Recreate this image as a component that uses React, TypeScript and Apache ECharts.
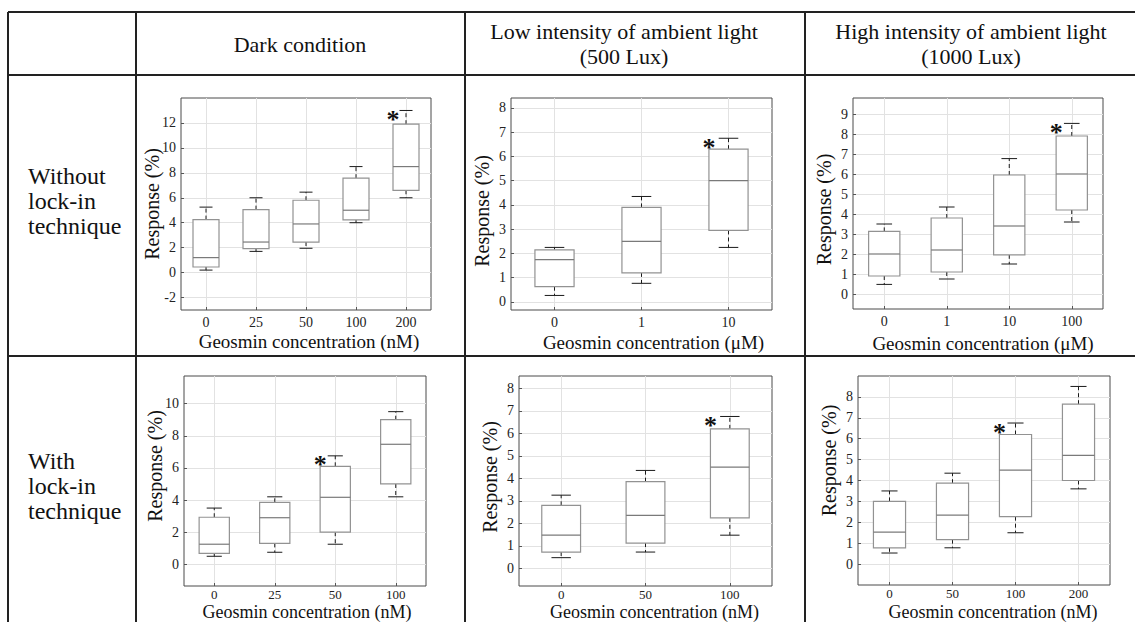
import React, { useEffect, useRef } from 'react';
import * as echarts from 'echarts';

// ---------- data ----------
const columnTitles = ['Dark condition', 'Low intensity of ambient light\n(500 Lux)', 'High intensity of ambient light\n(1000 Lux)'];
const rowTitles = ['Without\nlock-in\ntechnique', 'With\nlock-in\ntechnique'];
const yName = 'Response (%)';

// each box: [lower whisker, Q1, median, Q3, upper whisker]
const darkWithoutCats = ['0', '25', '50', '100', '200'];
const darkWithoutBoxes = [
  [0.2, 0.45, 1.2, 4.25, 5.25],
  [1.7, 1.92, 2.45, 5.05, 6.0],
  [1.95, 2.45, 3.9, 5.8, 6.45],
  [4.0, 4.22, 5.0, 7.57, 8.5],
  [6.0, 6.6, 8.5, 11.9, 13.0],
];
const darkWithoutStars = [0, 0, 0, 0, 1];
const darkWithoutTicks = [-2, 0, 2, 4, 6, 8, 10, 12];

const lowWithoutCats = ['0', '1', '10'];
const lowWithoutBoxes = [
  [0.27, 0.63, 1.75, 2.15, 2.25],
  [0.77, 1.2, 2.5, 3.9, 4.35],
  [2.25, 2.95, 5.0, 6.3, 6.75],
];
const lowWithoutStars = [0, 0, 1];
const lowWithoutTicks = [0, 1, 2, 3, 4, 5, 6, 7, 8];

const highWithoutCats = ['0', '1', '10', '100'];
const highWithoutBoxes = [
  [0.48, 0.9, 2.0, 3.13, 3.5],
  [0.75, 1.1, 2.2, 3.8, 4.35],
  [1.5, 1.96, 3.4, 5.95, 6.77],
  [3.6, 4.2, 6.0, 7.9, 8.53],
];
const highWithoutStars = [0, 0, 0, 1];
const highWithoutTicks = [0, 1, 2, 3, 4, 5, 6, 7, 8, 9];

const darkWithCats = ['0', '25', '50', '100'];
const darkWithBoxes = [
  [0.5, 0.68, 1.25, 2.93, 3.5],
  [0.75, 1.3, 2.9, 3.86, 4.2],
  [1.25, 2.0, 4.17, 6.1, 6.75],
  [4.2, 5.0, 7.47, 9.0, 9.5],
];
const darkWithStars = [0, 0, 1, 0];
const darkWithTicks = [0, 2, 4, 6, 8, 10];

const lowWithCats = ['0', '50', '100'];
const lowWithBoxes = [
  [0.47, 0.72, 1.47, 2.8, 3.25],
  [0.72, 1.12, 2.35, 3.85, 4.35],
  [1.47, 2.24, 4.5, 6.2, 6.75],
];
const lowWithStars = [0, 0, 1];
const lowWithTicks = [0, 1, 2, 3, 4, 5, 6, 7, 8];

const highWithCats = ['0', '50', '100', '200'];
const highWithBoxes = [
  [0.53, 0.78, 1.53, 3.0, 3.5],
  [0.78, 1.17, 2.34, 3.87, 4.35],
  [1.5, 2.27, 4.5, 6.2, 6.75],
  [3.6, 4.0, 5.2, 7.65, 8.5],
];
const highWithStars = [0, 0, 1, 0];
const highWithTicks = [0, 1, 2, 3, 4, 5, 6, 7, 8];

// ---------- layout / style ----------
const FONT = '"Liberation Serif", "Times New Roman", serif';

type Panel = {
  cats: string[];
  boxes: number[][];
  stars: number[];
  ticks: number[];
  unit: string;
  yMin: number;
  yMax: number;
  left: number;
  top: number;
  width: number;
  height: number;
  boxRatio: number;
  xNameShift: number;
  xNameGap: number;
  xNameSize: number;
  xLabelMargin: number;
  xLabelSize: number;
  yNameShift: number;
};

const top = { xNameSize: 19, xLabelMargin: 5, xLabelSize: 14 };
const bottom = { xNameSize: 18, xLabelMargin: 2, xLabelSize: 13 };

const panels: Panel[] = [
  { cats: darkWithoutCats, boxes: darkWithoutBoxes, stars: darkWithoutStars, ticks: darkWithoutTicks, unit: 'nM', yMin: -3, yMax: 14, left: 181, top: 98, width: 250, height: 212, boxRatio: 0.52, xNameShift: 3, xNameGap: 22, yNameShift: 0, ...top },
  { cats: lowWithoutCats, boxes: lowWithoutBoxes, stars: lowWithoutStars, ticks: lowWithoutTicks, unit: 'μM', yMin: -0.33, yMax: 8.41, left: 511, top: 98, width: 261, height: 212, boxRatio: 0.45, xNameShift: 12, xNameGap: 23, yNameShift: -7, ...top },
  { cats: highWithoutCats, boxes: highWithoutBoxes, stars: highWithoutStars, ticks: highWithoutTicks, unit: 'μM', yMin: -0.75, yMax: 9.8, left: 853, top: 98, width: 250, height: 211, boxRatio: 0.5, xNameShift: 5, xNameGap: 25, yNameShift: -6, ...top },
  { cats: darkWithCats, boxes: darkWithBoxes, stars: darkWithStars, ticks: darkWithTicks, unit: 'nM', yMin: -1.35, yMax: 11.72, left: 184, top: 376, width: 242, height: 210, boxRatio: 0.5, xNameShift: 2, xNameGap: 17, yNameShift: 15, ...bottom },
  { cats: lowWithCats, boxes: lowWithBoxes, stars: lowWithStars, ticks: lowWithTicks, unit: 'nM', yMin: -0.79, yMax: 8.55, left: 519, top: 376, width: 253, height: 210, boxRatio: 0.46, xNameShift: 9, xNameGap: 17, yNameShift: 4, ...bottom },
  { cats: highWithCats, boxes: highWithBoxes, stars: highWithStars, ticks: highWithTicks, unit: 'nM', yMin: -1, yMax: 9, left: 858, top: 376, width: 252, height: 209, boxRatio: 0.51, xNameShift: 9, xNameGap: 18, yNameShift: 20, ...bottom },
];

function makeRenderItem(ratio: number) {
  return (params: any, api: any) => {
    const x = api.value(0);
    const pts = [1, 2, 3, 4, 5].map((k) => api.coord([x, api.value(k)]));
    const [pLo, pQ1, pMed, pQ3, pHi] = pts;
    const cx = pLo[0];
    const bw = api.size([1, 0])[0] * ratio;
    const h = bw / 2;
    const c = bw / 4;
    const whisk = { stroke: '#1a1a1a', lineWidth: 1, lineDash: [4, 3] };
    const cap = { stroke: '#1a1a1a', lineWidth: 1 };
    const children: any[] = [
      { type: 'line', shape: { x1: cx, y1: pQ3[1], x2: cx, y2: pHi[1] }, style: whisk },
      { type: 'line', shape: { x1: cx, y1: pQ1[1], x2: cx, y2: pLo[1] }, style: whisk },
      { type: 'line', shape: { x1: cx - c, y1: pHi[1], x2: cx + c, y2: pHi[1] }, style: cap },
      { type: 'line', shape: { x1: cx - c, y1: pLo[1], x2: cx + c, y2: pLo[1] }, style: cap },
      { type: 'rect', shape: { x: cx - h, y: pQ3[1], width: bw, height: pQ1[1] - pQ3[1] }, style: { fill: '#ffffff', stroke: '#929292', lineWidth: 1.2 } },
      { type: 'line', shape: { x1: cx - h, y1: pMed[1], x2: cx + h, y2: pMed[1] }, style: { stroke: '#7a7a7a', lineWidth: 1.2 } },
    ];
    if (api.value(6)) {
      children.push({
        type: 'text',
        x: cx - h,
        y: pHi[1] + 9,
        style: { text: '*', font: `bold 26px ${FONT}`, fill: '#111', align: 'center', verticalAlign: 'middle' },
      });
    }
    return { type: 'group', children };
  };
}

export default function App() {
  const ref = useRef<HTMLDivElement>(null);
  useEffect(() => {
    if (!ref.current) return;
    const chart = echarts.init(ref.current, undefined, { renderer: 'svg' });

    const grids: any[] = [];
    const xAxes: any[] = [];
    const yAxes: any[] = [];
    const series: any[] = [];

    panels.forEach((p, i) => {
      const idx = p.cats.map((_, j) => j);
      grids.push({ left: p.left, top: p.top, width: p.width, height: p.height, show: true, borderColor: '#4a4a4a', borderWidth: 1, backgroundColor: '#ffffff', containLabel: false, outerBoundsMode: 'none' });
      xAxes.push({
        gridIndex: i,
        type: 'value',
        min: -0.5,
        max: p.cats.length - 0.5,
        name: `Geosmin concentration (${p.unit})`,
        nameLocation: 'middle',
        nameGap: p.xNameGap,
        nameMoveOverlap: false,
        nameTextStyle: { fontFamily: FONT, fontSize: p.xNameSize, lineHeight: p.xNameSize, color: '#111', padding: [0, 0, 0, p.xNameShift * 2] },
        axisLine: { show: false, onZero: false },
        axisTick: { show: true, inside: true, length: 3, customValues: idx, lineStyle: { color: '#555' } },
        axisLabel: { customValues: idx, formatter: (v: number) => p.cats[Math.round(v)] ?? '', fontFamily: FONT, fontSize: p.xLabelSize, lineHeight: p.xLabelSize, color: '#222', margin: p.xLabelMargin },
        splitLine: { show: true, lineStyle: { color: '#e2e2e2', width: 1 } },
      });
      yAxes.push({
        gridIndex: i,
        type: 'value',
        min: p.yMin,
        max: p.yMax,
        name: yName,
        nameLocation: 'middle',
        nameGap: 19,
        nameMoveOverlap: false,
        nameTextStyle: { fontFamily: FONT, fontSize: 20, color: '#111', padding: p.yNameShift >= 0 ? [0, 0, 0, p.yNameShift * 2] : [0, -p.yNameShift * 2, 0, 0] },
        axisLine: { show: false, onZero: false },
        axisTick: { show: true, inside: true, length: 3, customValues: p.ticks, lineStyle: { color: '#555' } },
        axisLabel: { customValues: p.ticks, fontFamily: FONT, fontSize: 14, color: '#222', margin: 5 },
        splitLine: { show: true, lineStyle: { color: '#e2e2e2', width: 1 } },
      });
      series.push({
        type: 'custom',
        xAxisIndex: i,
        yAxisIndex: i,
        clip: false,
        encode: { x: 0, y: [1, 2, 3, 4, 5] },
        data: p.boxes.map((b, j) => [j, ...b, p.stars[j]]),
        renderItem: makeRenderItem(p.boxRatio),
      });
    });

    const lineStyle = { stroke: '#222', lineWidth: 2 };
    const tableLines = [
      { x1: 8, y1: 12, x2: 1135, y2: 12 },
      { x1: 8, y1: 75, x2: 1135, y2: 75 },
      { x1: 8, y1: 356, x2: 1135, y2: 356 },
      { x1: 8, y1: 12, x2: 8, y2: 622 },
      { x1: 136, y1: 12, x2: 136, y2: 622 },
      { x1: 465, y1: 12, x2: 465, y2: 622 },
      { x1: 805, y1: 12, x2: 805, y2: 622 },
    ];
    const headerCenters = [300, 624, 971];
    const headerYs = [44, 44, 44];

    const graphic: any[] = [
      ...tableLines.map((s) => ({ type: 'line', shape: s, style: lineStyle, silent: true })),
      ...columnTitles.map((t, k) => ({
        type: 'text',
        x: headerCenters[k],
        y: headerYs[k],
        style: { text: t, font: `22px ${FONT}`, fill: '#111', align: 'center', verticalAlign: 'middle', lineHeight: 25 },
      })),
      ...rowTitles.map((t, k) => ({
        type: 'text',
        x: 28,
        y: k === 0 ? 201 : 486,
        style: { text: t, font: `24px ${FONT}`, fill: '#111', align: 'left', verticalAlign: 'middle', lineHeight: 25 },
      })),
    ];

    chart.setOption({
      animation: false,
      backgroundColor: '#ffffff',
      grid: grids,
      xAxis: xAxes,
      yAxis: yAxes,
      series,
      graphic,
    });
    return () => chart.dispose();
  }, []);
  return <div ref={ref} style={{ position: 'fixed', left: 0, top: 0, width: 1135, height: 622, background: '#fff' }} />;
}
